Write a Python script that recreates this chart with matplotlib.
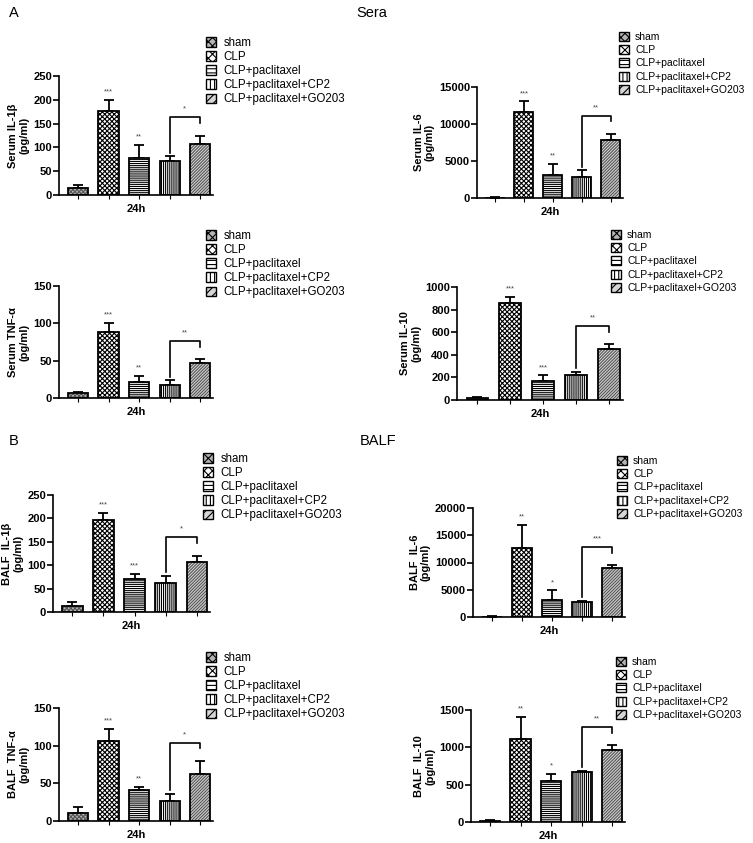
import numpy as np
import matplotlib
matplotlib.use("Agg")
import matplotlib.pyplot as plt
from matplotlib.patches import Patch

plt.rcParams["font.family"] = ["Liberation Sans", "DejaVu Sans"]
plt.rcParams["hatch.linewidth"] = 0.8

# groups shown in every panel
groups = ["sham", "CLP", "CLP+paclitaxel", "CLP+paclitaxel+CP2", "CLP+paclitaxel+GO203"]

# Sera
serum_il1b_mean = [14, 177, 77, 71, 108]
serum_il1b_err = [6, 23, 27, 10, 15]
serum_il1b_sig = ["", "***", "**", "", ""]

serum_il6_mean = [60, 11600, 3050, 2800, 7900]
serum_il6_err = [40, 1450, 1550, 1000, 800]
serum_il6_sig = ["", "***", "**", "", ""]

serum_tnf_mean = [7, 89, 22, 18, 47]
serum_tnf_err = [1, 12, 8, 6, 5]
serum_tnf_sig = ["", "***", "**", "", ""]

serum_il10_mean = [18, 855, 172, 222, 447]
serum_il10_err = [5, 55, 45, 28, 45]
serum_il10_sig = ["", "***", "***", "", ""]

# BALF
balf_il1b_mean = [12, 196, 70, 61, 107]
balf_il1b_err = [9, 15, 11, 16, 13]
balf_il1b_sig = ["", "***", "***", "", ""]

balf_il6_mean = [60, 12600, 3200, 2800, 9000]
balf_il6_err = [40, 4300, 1700, 200, 600]
balf_il6_sig = ["", "**", "*", "", ""]

balf_tnf_mean = [11, 106, 41, 26, 63]
balf_tnf_err = [8, 16, 4, 10, 17]
balf_tnf_sig = ["", "***", "**", "", ""]

balf_il10_mean = [15, 1115, 550, 670, 965]
balf_il10_err = [6, 290, 90, 15, 65]
balf_il10_sig = ["", "**", "*", "", ""]

# CP2 vs GO203 comparison
bracket_sig = ["*", "**", "**", "**", "*", "***", "*", "**"]

ylabels = ["Serum IL-1β\n(pg/ml)", "Serum IL-6\n(pg/ml)", "Serum TNF-α\n(pg/ml)", "Serum IL-10\n(pg/ml)",
           "BALF  IL-1β\n(pg/ml)", "BALF  IL-6\n(pg/ml)", "BALF  TNF-α\n(pg/ml)", "BALF  IL-10\n(pg/ml)"]
yticks = [[0, 50, 100, 150, 200, 250], [0, 5000, 10000, 15000], [0, 50, 100, 150],
          [0, 200, 400, 600, 800, 1000], [0, 50, 100, 150, 200, 250], [0, 5000, 10000, 15000, 20000],
          [0, 50, 100, 150], [0, 500, 1000, 1500]]

panels = [
    (serum_il1b_mean, serum_il1b_err, serum_il1b_sig),
    (serum_il6_mean, serum_il6_err, serum_il6_sig),
    (serum_tnf_mean, serum_tnf_err, serum_tnf_sig),
    (serum_il10_mean, serum_il10_err, serum_il10_sig),
    (balf_il1b_mean, balf_il1b_err, balf_il1b_sig),
    (balf_il6_mean, balf_il6_err, balf_il6_sig),
    (balf_tnf_mean, balf_tnf_err, balf_tnf_sig),
    (balf_il10_mean, balf_il10_err, balf_il10_sig),
]

# bar styles (face colour, hatch colour, hatch)
styles = [("#b4b4b4", "#555555", "xxxxxxxx"), ("white", "black", "xxxxxxx"),
          ("white", "black", "--------"), ("white", "black", "||||||||"),
          ("#d6d6d6", "#555555", "///////////")]

W, H = 753, 843
# axes boxes in pixels: left, right, top, bottom
boxes = [(59, 213, 76, 195), (477, 623, 87, 198),
         (59, 213, 286, 398), (457, 623, 287, 400),
         (53, 210, 495, 612), (473, 625, 508, 617),
         (59, 213, 708, 821), (471, 625, 710, 822)]
legend_pos = [(206, 37), (619, 32), (206, 230), (611, 230),
              (203, 453), (617, 456), (206, 652), (616, 657)]

fig = plt.figure(figsize=(W / 100, H / 100), dpi=100)

x = np.arange(len(groups))
for i, (mean, err, sig) in enumerate(panels):
    l, r, t, b = boxes[i]
    ax = fig.add_axes([l / W, 1 - b / H, (r - l) / W, (b - t) / H])
    ymax = yticks[i][-1]
    for j in range(len(groups)):
        fc, hc, hatch = styles[j]
        # hatch layer, then black outline on top
        ax.bar(x[j], mean[j], width=0.66, color=fc, edgecolor=hc,
               hatch=hatch, linewidth=0, zorder=2)
        ax.bar(x[j], mean[j], width=0.66, fill=False, edgecolor="black",
               linewidth=1.3, zorder=3)
    ax.errorbar(x, mean, yerr=[np.zeros(len(mean)), err], fmt="none", ecolor="black",
                elinewidth=1.3, capsize=3.5, capthick=1.3, zorder=1)
    tops = np.array(mean) + np.array(err)
    for j in range(len(groups)):
        if sig[j]:
            ax.text(x[j], tops[j] + 0.04 * ymax, sig[j], ha="center", va="bottom",
                    fontsize=5.5, color="#444444")
    # bracket between CP2 and GO203
    by = tops[4] + 0.16 * ymax
    ax.plot([x[3], x[3], x[4], x[4]],
            [tops[3] + 0.03 * ymax, by, by, by - 0.05 * ymax],
            color="black", linewidth=1.2, clip_on=False)
    ax.text((x[3] + x[4]) / 2, by + 0.04 * ymax, bracket_sig[i], ha="center", va="bottom",
            fontsize=5.5, color="#444444")

    ax.set_xlim(-0.62, 4.42)
    ax.set_ylim(0, ymax)
    ax.set_yticks(yticks[i])
    ax.set_xticks(x)
    ax.set_xticklabels([])
    ax.tick_params(axis="y", labelsize=8, width=1.2, length=4, pad=1)
    ax.tick_params(axis="x", width=0.8, length=3)
    for lab in ax.get_yticklabels():
        lab.set_fontweight("bold")
    ax.spines["top"].set_visible(False)
    ax.spines["right"].set_visible(False)
    ax.spines["left"].set_linewidth(1.2)
    ax.spines["bottom"].set_linewidth(1.2)
    ax.set_ylabel(ylabels[i], fontsize=8, fontweight="bold", labelpad=3, linespacing=1.1)
    ax.set_xlabel("24h", fontsize=8, fontweight="bold", labelpad=0)

    handles = [Patch(facecolor=styles[j][0], edgecolor="black", hatch=styles[j][2][:4], linewidth=1.0)
               for j in range(len(groups))]
    lx, ly = legend_pos[i]
    right_col = i % 2 == 1
    fig.legend(handles, groups, loc="upper left", bbox_to_anchor=(lx / W, 1 - ly / H),
               frameon=False, fontsize=7.5 if right_col else 8.3,
               handlelength=0.95 if right_col else 0.9, handleheight=0.95 if right_col else 0.9,
               labelspacing=0.3 if right_col else 0.18,
               borderpad=0, borderaxespad=0, handletextpad=0.6)

fig.text(14 / W, 1 - 13 / H, "A", fontsize=10.5, ha="center", va="center")
fig.text(372 / W, 1 - 13 / H, "Sera", fontsize=10.5, ha="center", va="center")
fig.text(14 / W, 1 - 441 / H, "B", fontsize=10.5, ha="center", va="center")
fig.text(378 / W, 1 - 441 / H, "BALF", fontsize=10.5, ha="center", va="center")

fig.savefig("out.png", dpi=100, facecolor="white")
